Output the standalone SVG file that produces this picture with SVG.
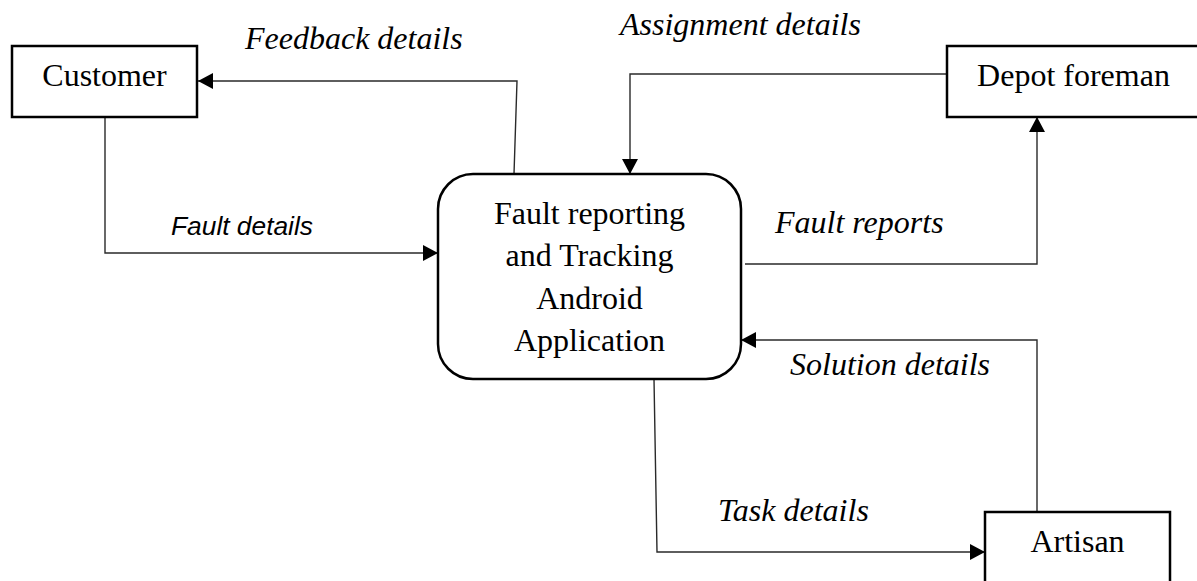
<svg xmlns="http://www.w3.org/2000/svg" width="1197" height="581" viewBox="0 0 1197 581">
  <style>
    .box { fill: #ffffff; stroke: #000000; stroke-width: 2.5; }
    .node-text { font-family: "Liberation Serif", "Times New Roman", serif; font-size: 32px; fill: #000000; text-anchor: middle; }
    .label { font-family: "Liberation Serif", "Times New Roman", serif; font-size: 32px; font-style: italic; fill: #000000; }
    .label-sans { font-family: "Liberation Sans", Arial, sans-serif; font-size: 25px; font-style: italic; fill: #000000; }
    .conn { fill: none; stroke: #2a2a2a; stroke-width: 1.4; }
  </style>
  <defs>
    <marker id="arrow" markerUnits="userSpaceOnUse" markerWidth="16" markerHeight="16" refX="15" refY="8" orient="auto">
      <path d="M0,0 L15,8 L0,16 z" fill="#000000"/>
    </marker>
  </defs>
  <rect width="1197" height="581" fill="#ffffff"/>

  <g id="connectors">
    <path class="conn" d="M514,174 L517,81 L198,81" marker-end="url(#arrow)"/>
    <path class="conn" d="M105,117 L105,253 L438,253" marker-end="url(#arrow)"/>
    <path class="conn" d="M947,74 L630,74 L630,174" marker-end="url(#arrow)"/>
    <path class="conn" d="M745,264 L1037,264 L1037,117" marker-end="url(#arrow)"/>
    <path class="conn" d="M1037,512 L1037,340 L741,340" marker-end="url(#arrow)"/>
    <path class="conn" d="M654,379 L657,552 L985,552" marker-end="url(#arrow)"/>
  </g>

  <g id="labels">
    <text class="label" x="245" y="49">Feedback details</text>
    <text class="label" x="620" y="35">Assignment details</text>
    <text class="label-sans" x="171" y="235" textLength="142" lengthAdjust="spacingAndGlyphs">Fault details</text>
    <text class="label" x="775" y="233">Fault reports</text>
    <text class="label" x="790" y="375">Solution details</text>
    <text class="label" x="718" y="521">Task details</text>
  </g>

  <g id="customer">
    <rect class="box" x="12" y="46" width="185" height="71"/>
    <text class="node-text" x="104.5" y="86">Customer</text>
  </g>

  <g id="depot-foreman">
    <rect class="box" x="947" y="46" width="253" height="71"/>
    <text class="node-text" x="1073.5" y="86">Depot foreman</text>
  </g>

  <g id="process">
    <rect class="box" x="438" y="174" width="303" height="205" rx="35" ry="35"/>
    <text class="node-text" x="589.5" y="224">Fault reporting</text>
    <text class="node-text" x="589.5" y="266">and Tracking</text>
    <text class="node-text" x="589.5" y="309">Android</text>
    <text class="node-text" x="589.5" y="351">Application</text>
  </g>

  <g id="artisan">
    <rect class="box" x="985" y="512" width="185" height="80"/>
    <text class="node-text" x="1077.5" y="552">Artisan</text>
  </g>
</svg>
